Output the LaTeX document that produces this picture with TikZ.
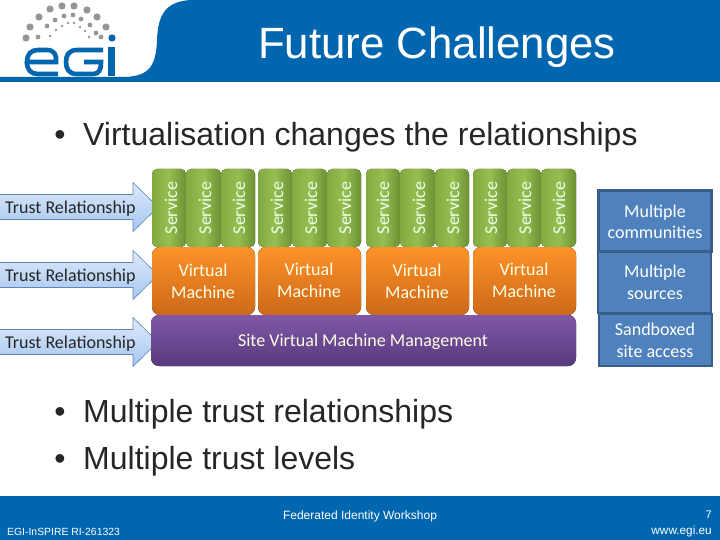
\documentclass[tikz,border=0pt]{standalone}
\usepackage{fontspec}
\setmainfont{Liberation Sans}
\newfontfamily\calfont{Carlito}
\definecolor{egiblue}{RGB}{0,102,176}
\definecolor{grn}{RGB}{150,190,80}
\definecolor{grnl}{RGB}{130,170,65}
\definecolor{grnd}{RGB}{108,145,52}
\definecolor{orgt}{RGB}{252,146,40}
\definecolor{orgb}{RGB}{205,105,25}
\definecolor{purt}{RGB}{128,88,168}
\definecolor{purb}{RGB}{88,58,125}
\definecolor{boxf}{RGB}{79,129,189}
\definecolor{boxd}{RGB}{56,93,138}
\definecolor{arrt}{RGB}{222,234,250}
\definecolor{arrb}{RGB}{165,198,240}
\definecolor{arrl}{RGB}{95,135,185}
\definecolor{dotg}{RGB}{150,150,150}
\tikzset{
 x=1pt,y=-1pt,
 svc/.style={rounded corners=5pt,left color=grnl,right color=grnd,middle color=grn},
 vm/.style={rounded corners=8pt,top color=orgt,bottom color=orgb},
 site/.style={rounded corners=8pt,top color=purt,bottom color=purb},
 side/.style={draw=boxd,line width=2.6pt,fill=boxf},
 caltext/.style={font=\calfont\fontsize{18}{22}\selectfont,align=center,text=white!90!yellow},
 svct/.style={font=\calfont\fontsize{18}{18}\selectfont,text=white!92!green,rotate=90},
 trust/.style={font=\calfont\fontsize{18}{18}\selectfont,text=black!85},
 sidet/.style={font=\calfont\fontsize{18}{21.5}\selectfont,align=center,text=white},
 bul/.style={font=\fontsize{32}{32}\selectfont,text=black!85},
 arr/.style={draw=arrl,line width=.6pt,top color=arrt,bottom color=arrb},
 logostroke/.style={egiblue,line width=4.6pt},
}
\begin{document}
\begin{tikzpicture}
\useasboundingbox (0,0) rectangle (720,540);
\fill[white] (0,0) rectangle (720,540);
% header
\fill[egiblue] (0,77) -- (125,77) .. controls (150,76) and (156,65) .. (157,40) .. controls (158,15) and (165,2) .. (190,0) -- (720,0) -- (720,82) -- (0,82) -- cycle;
\node[font=\fontsize{43.8}{44}\selectfont,text=white] (title) at (437,47) {Future Challenges};
% logo dots
\foreach \x/\y in {26/38,30/27,39/17,50/9,62/6,74/6,87/10,97/17,106/27}{\fill[dotg] (\x,\y) circle (3.6);}
\foreach \x/\y in {38/37,47/26,55/20,64/16,73/15,81/19,90/25,96/33,101/37}{\fill[dotg] (\x,\y) circle (2.4);}
\foreach \x/\y in {50/36,56/30,62/26,68/23,74/23,80/27,85/31,89/37}{\fill[dotg] (\x,\y) circle (1.3);}
\fill[egiblue] (112,38) circle (3.6);
% logo letters
\draw[logostroke] (27,62) .. controls (27,54) and (31,50) .. (38,50) -- (47,50) .. controls (54,50) and (57,55) .. (56,62) -- cycle;
\draw[logostroke] (27,62) .. controls (27,70) and (31,74) .. (38,74) -- (58,74);
\draw[logostroke] (103,50) -- (77,50) .. controls (69,50) and (66,55) .. (66,62) .. controls (66,69) and (69,74) .. (77,74) -- (93,74) .. controls (99,74) and (101,70) .. (101,62) -- (84,62);
\fill[egiblue] (108,47) rectangle (115,76);
% bullets
\node[bul,anchor=base] (d1) at (60,146) {\textbullet};
\node[bul,anchor=base west,inner sep=0pt] (b1) at (83,146) {Virtualisation changes the relationships};
\node[bul,anchor=base] (d2) at (60,422) {\textbullet};
\node[bul,anchor=base west,inner sep=0pt] (b2) at (83,422) {Multiple trust relationships};
\node[bul,anchor=base] (d3) at (60,469) {\textbullet};
\node[bul,anchor=base west,inner sep=0pt] (b3) at (83,469) {Multiple trust levels};
% arrows
\foreach \n/\y in {a/207,b/275,c/342}{
 \draw[arr] (-2,\y-12.5) -- (133,\y-12.5) -- (133,\y-24.5) -- (158,\y) -- (133,\y+24.5) -- (133,\y+12.5) -- (-2,\y+12.5) -- cycle;
 \node[trust,anchor=west,inner sep=0pt] (\n) at (5,\y+1.5) {Trust Relationship};
}
% services
\foreach \l/\r/\tx in {152/186/171,186/221/205,221/255/239,258/292/277,292/327/311,327/361/345,366/400/383,400/435/419,435/469/453,473/507/491,507/541/525,541/576/559}{
 \fill[svc] (\l,169) rectangle (\r,247);
 \node[svct] at (\tx,208) {Service};
}
% VMs
\foreach \l/\r in {152/255,258/361,366/469,473/576}{\fill[vm] (\l,247) rectangle (\r,315);}
\node[caltext] (v1) at (203,281) {Virtual\\Machine};
\node[caltext] (v2) at (309,280) {Virtual\\Machine};
\node[caltext] (v3) at (417,281) {Virtual\\Machine};
\node[caltext] (v4) at (524,280) {Virtual\\Machine};
% site
\fill[site] (151,315) rectangle (576,366);
\node[caltext] (s) at (363,342) {Site Virtual Machine Management};
% side boxes
\node[side,minimum width=113pt,minimum height=61pt,inner sep=0pt] (m1) at (655,221) {};
\node[side,minimum width=113pt,minimum height=61pt,inner sep=0pt] (m2) at (654.5,282.5) {};
\node[side,minimum width=113pt,minimum height=52pt,inner sep=0pt] (m3) at (655.5,340) {};
\node[sidet] at (655,222) {Multiple\\communities};
\node[sidet] at (655,282.5) {Multiple\\sources};
\node[sidet] at (655,340.5) {Sandboxed\\site access};
% footer
\fill[egiblue] (0,496) rectangle (720,540);
\node[font=\fontsize{12}{12}\selectfont,text=white] (f1) at (360,516) {Federated Identity Workshop};
\node[font=\fontsize{10.4}{10.4}\selectfont,text=white,anchor=west,inner sep=0pt] (f2) at (7,531.5) {EGI-InSPIRE RI-261323};
\node[font=\fontsize{11}{11}\selectfont,text=white,anchor=east,inner sep=0pt] (f3) at (712,515) {7};
\node[font=\fontsize{11.8}{11.8}\selectfont,text=white,anchor=east,inner sep=0pt] (f4) at (712,531) {www.egi.eu};
\end{tikzpicture}
\end{document}
